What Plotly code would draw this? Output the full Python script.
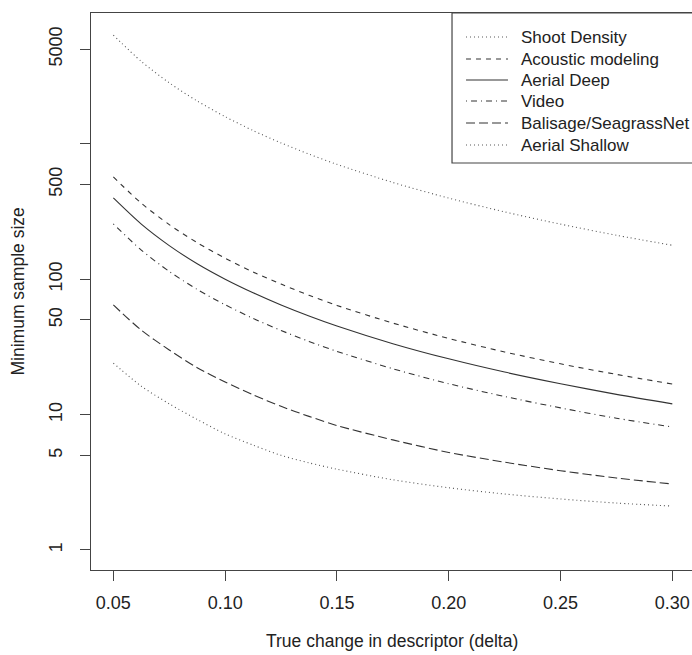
import plotly.graph_objects as go

# delta values and minimum sample sizes
delta = [0.05, 0.0625, 0.075, 0.0875, 0.10, 0.1125, 0.125, 0.1375, 0.15,
         0.175, 0.20, 0.225, 0.25, 0.275, 0.30]

shoot_density = [6340, 4060, 2820, 2070, 1586, 1253, 1015, 839, 705,
                 518, 397, 314, 255, 211, 178]
acoustic = [569, 364, 253, 186, 143, 113, 92, 76, 64,
            47.4, 36.5, 29.0, 23.7, 19.8, 16.8]
aerial_deep = [398, 255, 177, 130, 100, 79.4, 64.5, 53.5, 45.1,
               33.4, 25.8, 20.6, 16.9, 14.1, 12.0]
video = [256, 164, 114, 84, 64.7, 51.3, 41.8, 34.7, 29.3,
         21.8, 16.9, 13.6, 11.2, 9.4, 8.1]
balisage = [64.5, 42.0, 30.0, 22.2, 17.4, 14.0, 11.5, 9.7, 8.3,
            6.5, 5.25, 4.45, 3.85, 3.40, 3.07]
aerial_shallow = [24.0, 16.2, 12.0, 9.2, 7.2, 5.95, 5.0, 4.4, 3.95,
                  3.30, 2.88, 2.59, 2.38, 2.22, 2.11]

names = ["Shoot Density", "Acoustic modeling", "Aerial Deep", "Video",
         "Balisage/SeagrassNet", "Aerial Shallow"]
values = [shoot_density, acoustic, aerial_deep, video, balisage, aerial_shallow]
dashes = ["1px,3px", "5px,5px", "solid", "1px,4px,6px,4px", "9px,4px", "1px,3px"]
colors = ["#555555", "#333333", "#333333", "#333333", "#333333", "#555555"]

y_ticks = [1, 5, 10, 50, 100, 500, 1000, 5000]
y_tick_text = ["1", "5", "10", "50", "100", "500", "", "5000"]
x_ticks = [0.05, 0.10, 0.15, 0.20, 0.25, 0.30]
x_tick_text = ["0.05", "0.10", "0.15", "0.20", "0.25", "0.30"]

FAMILY = "Liberation Sans, Arial, sans-serif"
INK = "#222222"

fig = go.Figure()
for name, vals, dash, col in zip(names, values, dashes, colors):
    fig.add_trace(go.Scatter(
        x=delta, y=vals, name=name, mode="lines", showlegend=False,
        line=dict(color=col, width=1.1, dash=dash, shape="spline", smoothing=0.8),
    ))

fig.update_layout(
    width=692, height=655,
    margin=dict(l=91, r=0, t=13, b=85),
    plot_bgcolor="white", paper_bgcolor="white",
    font=dict(family=FAMILY, size=17.5, color=INK),
    showlegend=False,
)

fig.update_xaxes(
    range=[0.04, 0.3088], tickvals=x_ticks, ticktext=x_tick_text,
    ticklabelstandoff=6,
    showline=True, linecolor="#444444", linewidth=1.2, mirror=True,
    ticks="outside", ticklen=10, tickcolor="#444444", tickwidth=1,
    showgrid=False, zeroline=False, automargin=False,
    tickfont=dict(size=18),
)
fig.update_yaxes(
    type="log", range=[-0.148, 3.966], tickvals=y_ticks, ticktext=y_tick_text,
    tickangle=-90, ticklabelstandoff=11,
    showline=True, linecolor="#444444", linewidth=1.2, mirror=False,
    ticks="outside", ticklen=10, tickcolor="#444444", tickwidth=1,
    showgrid=False, zeroline=False, automargin=False,
    tickfont=dict(size=18),
)

# axis titles
fig.add_annotation(text="True change in descriptor (delta)", xref="paper", yref="paper",
                   x=0.5, y=-0.1275, xanchor="center", yanchor="middle",
                   showarrow=False, font=dict(size=17.5, color=INK))
fig.add_annotation(text="Minimum sample size", xref="paper", yref="paper",
                   x=-0.1215, y=0.5, xanchor="center", yanchor="middle", textangle=-90,
                   showarrow=False, font=dict(size=17.5, color=INK))

# legend in R style: box open on the right (cropped), line samples + labels
fig.add_shape(type="rect", xref="paper", yref="paper",
              x0=0.6007, x1=1.02, y0=0.7307, y1=1.0,
              line=dict(color="#444444", width=1.2))
row_y = [0.9569, 0.9174, 0.8797, 0.8420, 0.8025, 0.7630]
for yy, name, dash, col in zip(row_y, names, dashes, colors):
    fig.add_shape(type="line", xref="paper", yref="paper",
                  x0=0.6240, x1=0.6938, y0=yy, y1=yy,
                  line=dict(color=col, width=1.1, dash=dash))
    fig.add_annotation(text=name, xref="paper", yref="paper", x=0.7121, y=yy,
                       xanchor="left", yanchor="middle", showarrow=False,
                       font=dict(size=17, color=INK))

# drop the default body margin so the figure sits at the window's corner
fig.write_html(
    "out.html",
    config={"displayModeBar": False},
    post_script="document.body.style.margin='0';document.body.style.overflow='hidden';",
)
